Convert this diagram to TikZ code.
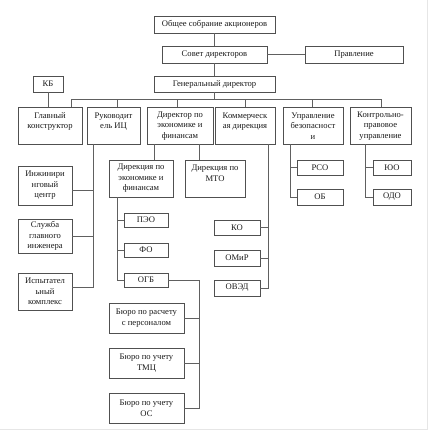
\documentclass[tikz,border=0pt]{standalone}
\usepackage{fontspec}
\setmainfont{Liberation Serif}
\definecolor{boxc}{HTML}{505050}
\definecolor{linec}{HTML}{606060}
\definecolor{framec}{HTML}{E6E6E6}
\tikzset{
  box/.style={draw=boxc, line width=0.9pt, inner sep=0pt, align=center,
    font=\fontsize{8.6}{10.5}\selectfont, text=black!90},
  conn/.style={draw=linec, line width=0.9pt},
}
\begin{document}
\begin{tikzpicture}[x=1pt,y=-1pt]
\useasboundingbox (0,0) rectangle (429,438);
\draw[framec, line width=1pt] (427.7,0) -- (427.7,429.3) -- (0,429.3);
% top
\node[box, minimum width=121pt, minimum height=17pt] (osa) at (214.5,24.5) {Общее собрание акционеров};
\node[box, minimum width=105pt, minimum height=17pt] (sd) at (214.5,54.5) {Совет директоров};
\node[box, minimum width=98pt, minimum height=17pt] (pr) at (354,54.5) {Правление};
\node[box, minimum width=121pt, minimum height=16pt] (gd) at (214.5,84) {Генеральный директор};
\node[box, minimum width=30pt, minimum height=16pt] (kb) at (48,84) {КБ};
% level 2
\node[box, minimum width=64pt, minimum height=36.5pt] (gk) at (50,125.75) {Главный\\конструктор\\\mbox{}};
\node[box, minimum width=53pt, minimum height=36.5pt] (ric) at (113.5,125.75) {Руководит\\ель ИЦ\\\mbox{}};
\node[box, minimum width=66pt, minimum height=36.5pt] (dek) at (180,125.75) {Директор по\\экономике и\\финансам};
\node[box, minimum width=60pt, minimum height=36.5pt] (kd) at (245,125.75) {Коммерческ\\ая дирекция\\\mbox{}};
\node[box, minimum width=60pt, minimum height=36.5pt] (ub) at (313,125.75) {Управление\\безопасност\\и};
\node[box, minimum width=61pt, minimum height=36.5pt] (kpu) at (380.5,125.75) {Контрольно-\\правовое\\управление};
% left column
\node[box, minimum width=54pt, minimum height=39pt] (ic) at (45,185.5) {Инжинири\\нговый\\центр};
\node[box, minimum width=54pt, minimum height=34pt] (sgi) at (45,236) {Служба\\главного\\инженера};
\node[box, minimum width=54pt, minimum height=37pt] (isp) at (45,291.5) {Испытател\\ьный\\комплекс};
% economics
\node[box, minimum width=64pt, minimum height=37pt] (def) at (141,178.5) {Дирекция по\\экономике и\\финансам};
\node[box, minimum width=60pt, minimum height=37pt] (mto) at (215,178.5) {Дирекция по\\МТО\\\mbox{}};
\node[box, minimum width=44pt, minimum height=14pt] (peo) at (146,220) {ПЭО};
\node[box, minimum width=44pt, minimum height=14pt] (fo) at (146,250) {ФО};
\node[box, minimum width=44pt, minimum height=14pt] (ogb) at (146,280) {ОГБ};
\node[box, minimum width=75pt, minimum height=30pt] (b1) at (146.5,318) {Бюро по расчету\\с персоналом};
\node[box, minimum width=75pt, minimum height=30pt] (b2) at (146.5,363) {Бюро по учету\\ТМЦ};
\node[box, minimum width=75pt, minimum height=30pt] (b3) at (146.5,408) {Бюро по учету\\ОС};
% commercial
\node[box, minimum width=46pt, minimum height=15pt] (ko) at (237,227.5) {КО};
\node[box, minimum width=46pt, minimum height=16pt] (omr) at (237,258) {ОМиР};
\node[box, minimum width=46pt, minimum height=16pt] (oved) at (237,288) {ОВЭД};
% security / legal
\node[box, minimum width=46pt, minimum height=15pt] (rso) at (320,167.5) {РСО};
\node[box, minimum width=46pt, minimum height=16pt] (ob) at (320,197) {ОБ};
\node[box, minimum width=38pt, minimum height=15pt] (yuo) at (392,167.5) {ЮО};
\node[box, minimum width=38pt, minimum height=16pt] (odo) at (392,197) {ОДО};
% coordinates
\coordinate (busL) at (71,99);
\coordinate (busR) at (381,99);
\coordinate (ricv) at (93,144);
\coordinate (defv) at ([xshift=-24pt]def.south);
\coordinate (ogbx) at (199,280);
\coordinate (kdv) at ([xshift=23pt]kd.south);
\coordinate (ubv) at ([xshift=-23pt]ub.south);
\coordinate (kpuv) at ([xshift=-15.5pt]kpu.south);
% top connectors
\draw[conn] (osa) -- (sd);
\draw[conn] (sd) -- (pr);
\draw[conn] (sd) -- (gd);
\draw[conn] (gd.south) -- (gd.south |- busL);
\draw[conn] (gk.north -| busL) -- (busL) -- (busR) -- (kpu.north -| busR);
\draw[conn] (kb.south) -- (kb.south |- gk.north);
\draw[conn] ([xshift=3.5pt]ric.north) -- ([xshift=3.5pt]ric.north |- busL);
\draw[conn] ([xshift=-3pt]dek.north) -- ([xshift=-3pt]dek.north |- busL);
\draw[conn] (kd.north) -- (kd.north |- busL);
\draw[conn] ([xshift=-1pt]ub.north) -- ([xshift=-1pt]ub.north |- busL);
% engineering
\draw[conn] (ricv) |- ([yshift=4.5pt]isp.east);
\draw[conn] ([yshift=-4.5pt]ic.east) -- ([yshift=-4.5pt]ic.east -| ricv);
\draw[conn] (sgi.east) -- (sgi.east -| ricv);
% economics
\draw[conn] ([xshift=13pt]def.north) -- ([xshift=13pt]def.north |- dek.south);
\draw[conn] ([xshift=-16pt]mto.north) -- ([xshift=-16pt]mto.north |- dek.south);
\draw[conn] (defv) |- (ogb.west);
\draw[conn] (peo.west) -- (peo.west -| defv);
\draw[conn] (fo.west) -- (fo.west -| defv);
\draw[conn] (ogb.east) -| (b3.east -| ogbx) -- (b3.east);
\draw[conn] (b1.east) -- (b1.east -| ogbx);
\draw[conn] (b2.east) -- (b2.east -| ogbx);
% commercial
\draw[conn] (kdv) |- (oved.east);
\draw[conn] (ko.east) -- (ko.east -| kdv);
\draw[conn] (omr.east) -- (omr.east -| kdv);
% security / legal
\draw[conn] (ubv) |- (ob.west);
\draw[conn] (rso.west) -- (rso.west -| ubv);
\draw[conn] (kpuv) |- (odo.west);
\draw[conn] (yuo.west) -- (yuo.west -| kpuv);
\end{tikzpicture}
\end{document}
